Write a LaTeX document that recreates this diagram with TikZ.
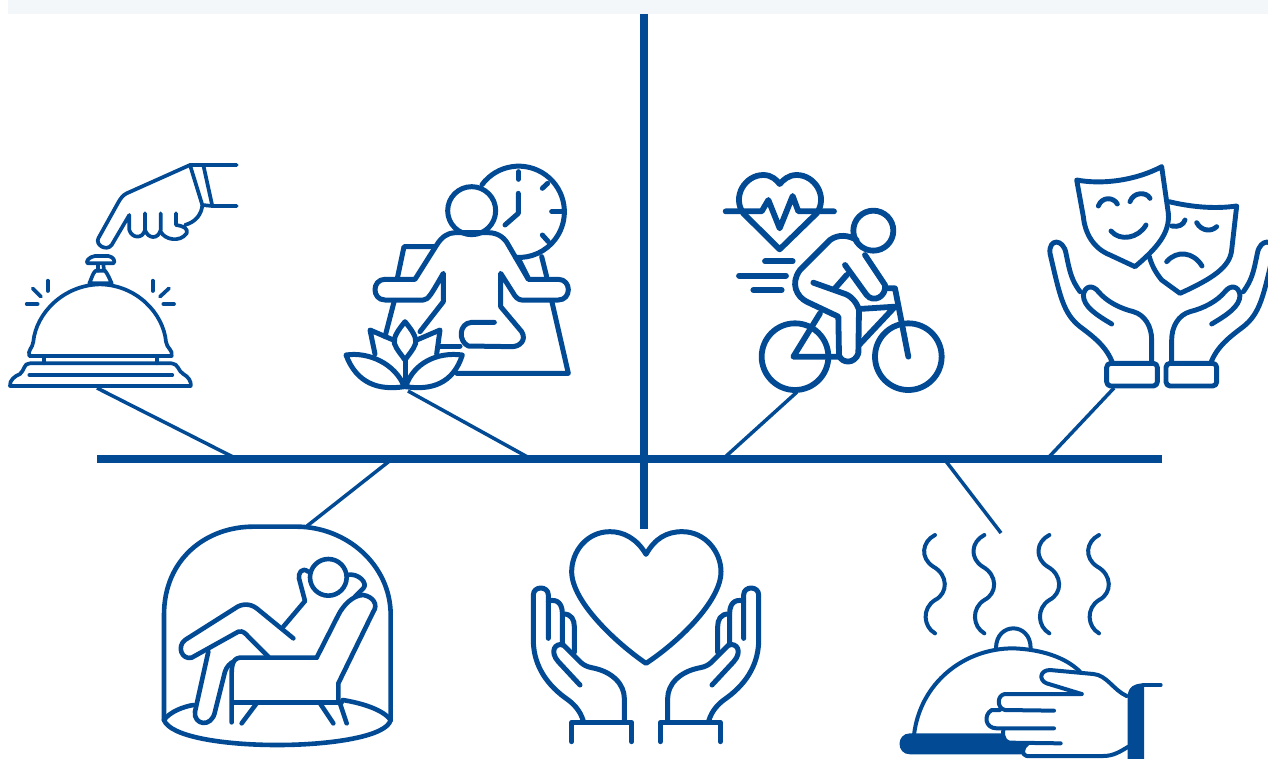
\documentclass[tikz,border=0pt]{standalone}
\definecolor{navy}{RGB}{2,75,148}
\definecolor{band}{RGB}{243,247,250}
\tikzset{
  ic/.style={draw=navy,line cap=round,line join=round},
  axisline/.style={draw=navy,line width=8pt},
  spoke/.style={draw=navy,line width=3.5pt}
}
\newcommand{\maskhand}{%
  \draw[ic] (248,640) .. controls (230,590) and (190,560) .. (150,530) .. controls (100,490) and (90,440) .. (60,310) .. controls (55,265) and (100,265) .. (108,310) .. controls (120,370) and (125,390) .. (150,425);
  \draw[ic] (245,522) .. controls (200,495) and (160,470) .. (160,435) .. controls (165,405) and (190,405) .. (205,425) .. controls (230,455) and (270,475) .. (310,485) .. controls (345,495) and (365,530) .. (365,570) -- (365,640);
  \draw[ic,rounded corners=4pt] (230,640) rectangle (382,708);
}
\newcommand{\hearthand}{%
  \draw[ic] (190,618) .. controls (180,585) and (160,565) .. (135,548) .. controls (70,500) and (40,440) .. (40,375) -- (40,240) .. controls (40,212) and (85,212) .. (85,240) -- (85,370);
  \draw[ic] (85,258) .. controls (115,250) and (127,270) .. (127,295) -- (127,390);
  \draw[ic] (127,297) .. controls (155,295) and (163,315) .. (163,335) -- (163,412);
  \draw[ic] (180,510) -- (115,440) .. controls (88,410) and (105,382) .. (130,390) -- (180,440) .. controls (190,450) and (200,455) .. (215,458) .. controls (280,470) and (313,510) .. (313,550) -- (313,622);
  \draw[ic] (155,680) -- (155,622) -- (335,622) -- (335,680);
}
\newcommand{\steam}{%
  \draw[ic] (135,45) .. controls (95,65) and (90,115) .. (130,140) .. controls (175,165) and (175,220) .. (135,240) .. controls (95,265) and (100,320) .. (135,340);
}
\begin{document}
\begin{tikzpicture}[x=1pt,y=-1pt]
\useasboundingbox (0,0) rectangle (1268,758);
\clip (0,0) rectangle (1268,758);
\fill[band] (8,0) rectangle (1268,14);
% connector anchors
\coordinate (hL) at (97,459);
\coordinate (hR) at (1162,459);
\coordinate (vT) at (644,14);
\coordinate (vB) at (644,529);
\coordinate (bellEnd) at (97,388);
\coordinate (bellFoot) at (239,460);
\coordinate (medEnd) at (408,391);
\coordinate (medFoot) at (533,460);
\coordinate (bikeEnd) at (797,392);
\coordinate (bikeFoot) at (724,458);
\coordinate (maskEnd) at (1114,388);
\coordinate (maskFoot) at (1048,458);
\coordinate (loungeEnd) at (307,526);
\coordinate (loungeFoot) at (392,459);
\coordinate (clocheEnd) at (1001,533);
\coordinate (clocheFoot) at (945,460);
\draw[axisline] (hL) -- (hR);
\draw[axisline] (vT) -- (vB);
\draw[spoke] (bellEnd) -- (bellFoot);
\draw[spoke] (medEnd) -- (medFoot);
\draw[spoke] (bikeEnd) -- (bikeFoot);
\draw[spoke] (maskEnd) -- (maskFoot);
\draw[spoke] (loungeEnd) -- (loungeFoot);
\draw[spoke] (clocheEnd) -- (clocheFoot);

% ---- bell
\begin{scope}[shift={(0,150)},x=.33333pt,y=-.33333pt,line width=3.7pt]
\draw[ic] (710,45) -- (570,45) -- (380,130) .. controls (368,136) and (362,145) .. (355,157) -- (295,265) .. controls (285,285) and (320,305) .. (335,285) -- (388,195) -- (388,240) .. controls (395,265) and (428,268) .. (435,240) -- (435,190);
\draw[ic] (435,240) .. controls (445,268) and (475,268) .. (482,240) -- (482,190);
\draw[ic] (482,245) .. controls (495,270) and (540,278) .. (560,250) .. controls (565,235) and (550,228) .. (528,225) -- (528,190);
\draw[ic] (555,225) .. controls (590,215) and (605,190) .. (607,165) -- (570,45);
\draw[ic] (610,45) -- (637,168) -- (710,168);
\draw[ic] (607,165) -- (637,168);
\draw[ic] (285,318) -- (325,318) .. controls (340,320) and (348,335) .. (340,340) -- (263,340) .. controls (255,335) and (268,320) .. (285,318) -- cycle;
\draw[ic] (295,342) -- (295,362);
\draw[ic] (310,342) -- (312,362);
\draw[ic] (268,400) .. controls (275,385) and (278,370) .. (287,362) -- (315,362) .. controls (325,375) and (328,385) .. (335,400) -- cycle;
\draw[ic] (88,618) .. controls (82,600) and (98,595) .. (100,575) .. controls (108,490) and (190,405) .. (300,403) .. controls (410,405) and (490,490) .. (498,575) .. controls (500,595) and (520,600) .. (515,618) -- cycle;
\draw[ic] (133,620) -- (133,640);
\draw[ic] (470,620) -- (470,640);
\draw[ic] (90,640) -- (515,640) .. controls (535,640) and (535,665) .. (550,672) .. controls (565,680) and (575,695) .. (572,708) -- (30,708) .. controls (28,690) and (45,678) .. (60,672) .. controls (75,660) and (70,640) .. (90,640) -- cycle;
\draw[ic] (88,675) -- (517,675);
\draw[ic] (143,392) -- (143,423);
\draw[ic] (98,415) -- (123,440);
\draw[ic] (80,462) -- (113,462);
\draw[ic] (458,392) -- (458,423);
\draw[ic] (507,415) -- (480,440);
\draw[ic] (490,462) -- (522,462);
\end{scope}

% ---- meditation
\begin{scope}[shift={(335,150)},x=.33333pt,y=-.33333pt,line width=5pt]
\draw[ic] (441,104) arc[start angle=216.5,end angle=454,radius=137];
\draw[ic] (550,65) -- (550,88);
\draw[ic] (622,115) -- (638,100);
\draw[ic] (650,185) -- (680,185);
\draw[ic] (622,255) -- (640,275);
\draw[ic] (550,130) -- (550,190) -- (510,225);
\draw[ic] (410,182) circle[radius=72];
\draw[ic] (150,388) -- (240,388) -- (305,285) .. controls (320,260) and (340,248) .. (360,248) -- (460,248) .. controls (490,248) and (510,265) .. (520,285) -- (580,388) -- (670,388) .. controls (710,388) and (710,450) .. (670,450) -- (560,450) .. controls (550,450) and (540,440) .. (535,430) -- (497,370) -- (497,470) -- (560,545) .. controls (575,570) and (555,590) .. (530,590) -- (400,588) .. controls (370,575) and (370,520) .. (410,517) -- (478,517);
\draw[ic] (150,388) .. controls (110,388) and (110,450) .. (150,450) -- (265,450) .. controls (280,450) and (290,430) .. (325,370) -- (325,455) -- (255,545);
\draw[ic] (315,588) -- (375,588);
\draw[ic] (300,290) -- (207,290) -- (187,385);
\draw[ic] (178,452) -- (150,560);
\draw[ic] (555,335) -- (580,385);
\draw[ic] (620,320) -- (635,380);
\draw[ic] (650,452) -- (700,670) -- (365,670);
% lotus
\draw[ic] (33,615) .. controls (100,605) and (180,640) .. (208,710) .. controls (130,722) and (65,700) .. (33,615) -- cycle;
\draw[ic] (382,615) .. controls (305,605) and (235,640) .. (212,710) .. controls (290,722) and (355,700) .. (382,615) -- cycle;
\draw[ic] (210,515) .. controls (190,540) and (175,560) .. (178,580) .. controls (185,600) and (200,615) .. (210,630) .. controls (220,615) and (235,600) .. (242,580) .. controls (245,560) and (230,540) .. (210,515) -- cycle;
\draw[ic] (210,630) -- (210,710);
\draw[ic] (120,612) -- (105,540) -- (175,570);
\draw[ic] (305,612) -- (315,540) -- (245,570);
\end{scope}

% ---- bike
\begin{scope}[shift={(710,160)},x=.33333pt,y=-.33333pt,line width=5.8pt]
\draw[ic] (209,268) -- (100,160) .. controls (65,110) and (105,45) .. (160,45) .. controls (185,45) and (200,60) .. (209,72) .. controls (220,60) and (235,45) .. (260,45) .. controls (315,45) and (355,110) .. (320,160) -- cycle;
\draw[ic] (47,154) -- (155,154) -- (175,120) -- (209,205) -- (248,108) -- (265,154) -- (372,154);
\draw[ic] (165,304) -- (248,304);
\draw[ic] (87,347) -- (228,347);
\draw[ic] (130,390) -- (215,390);
\draw[ic] (490,212) circle[radius=60];
\draw[ic] (440,240) .. controls (415,225) and (385,222) .. (360,240) -- (270,330) .. controls (240,370) and (260,410) .. (290,425) -- (385,470) -- (387,585) .. controls (395,612) and (435,612) .. (445,580) -- (447,450) .. controls (440,425) and (420,405) .. (400,400) -- (310,368);
\draw[ic] (405,315) -- (470,405) .. controls (490,430) and (530,410) .. (525,375) -- (465,285);
\draw[ic] (410,345) -- (375,385);
\draw[ic] (255,590) circle[radius=100];
\draw[ic] (595,590) circle[radius=100];
\draw[ic] (330,460) -- (250,590) -- (385,590);
\draw[ic] (447,555) -- (555,440) -- (447,447);
\draw[ic] (530,385) -- (555,385) -- (595,590);
\end{scope}

% ---- masks
\begin{scope}[shift={(1030,150)},x=.33333pt,y=-.33333pt,line width=4.9pt]
\draw[ic] (140,90) .. controls (220,105) and (320,90) .. (395,50) -- (415,190) .. controls (420,250) and (380,295) .. (315,350) -- (240,315) .. controls (190,295) and (165,250) .. (160,200) -- cycle;
\draw[ic] (205,168) .. controls (215,140) and (250,140) .. (262,162);
\draw[ic] (300,155) .. controls (310,125) and (350,125) .. (360,145);
\draw[ic] (243,243) .. controls (270,275) and (325,265) .. (348,225);
\draw[ic] (417,155) .. controls (480,170) and (550,178) .. (620,168) -- (605,300) .. controls (600,350) and (550,385) .. (450,430) -- (395,390) .. controls (375,365) and (365,345) .. (358,320);
\draw[ic] (425,228) .. controls (445,232) and (460,225) .. (465,210);
\draw[ic] (500,218) .. controls (515,245) and (545,245) .. (560,230);
\draw[ic] (410,335) .. controls (440,300) and (490,305) .. (516,348);
\maskhand
\begin{scope}[shift={(790,0)},xscale=-1]
\maskhand
\end{scope}
\end{scope}

% ---- lounge
\begin{scope}[shift={(150,515)},x=.33333pt,y=-.33333pt,line width=4.6pt]
\draw[ic] (42,615) -- (42,300) .. controls (42,130) and (170,35) .. (310,35) -- (440,35) .. controls (590,35) and (722,150) .. (722,300) -- (722,615);
\draw[ic] (42,615) .. controls (60,665) and (220,690) .. (382,690) .. controls (540,690) and (710,665) .. (722,615);
\draw[ic] (42,615) .. controls (60,590) and (100,575) .. (130,570);
\draw[ic] (578,555) .. controls (640,565) and (700,585) .. (722,615);
\draw[ic] (250,562) -- (575,562);
\draw[ic] (535,187) circle[radius=55];
\draw[ic] (475,170) .. controls (455,155) and (445,175) .. (447,190) -- (465,258) -- (400,335);
\draw[ic] (590,180) .. controls (625,172) and (655,205) .. (640,220) -- (615,245);
\draw[ic] (500,428) -- (565,300) .. controls (580,270) and (610,240) .. (640,240) .. controls (670,245) and (685,270) .. (670,290) -- (565,505) -- (565,560);
\draw[ic] (500,428) -- (270,428) .. controls (245,430) and (245,460) .. (245,480) -- (245,622);
\draw[ic] (430,370) -- (320,280) .. controls (300,265) and (275,265) .. (255,280) -- (105,375) .. controls (80,395) and (95,435) .. (125,428) -- (265,350) .. controls (280,345) and (290,360) .. (295,365) -- (355,425);
\draw[ic] (175,410) -- (135,590) .. controls (130,630) and (185,640) .. (195,590) -- (225,470) .. controls (230,455) and (240,445) .. (250,440);
\draw[ic] (320,565) -- (275,625);
\draw[ic] (510,565) -- (550,625);
\draw[ic] (570,565) -- (590,625);
\end{scope}

% ---- heart and hands
\begin{scope}[shift={(520,515)},x=.33333pt,y=-.33333pt,line width=5pt]
\draw[ic] (378,118) .. controls (350,70) and (310,50) .. (270,50) .. controls (200,50) and (155,110) .. (155,170) .. controls (155,260) and (290,385) .. (378,445) .. controls (470,385) and (603,260) .. (603,170) .. controls (603,110) and (555,50) .. (487,50) .. controls (440,50) and (405,70) .. (378,118) -- cycle;
\hearthand
\begin{scope}[shift={(756,0)},xscale=-1]
\hearthand
\end{scope}
\end{scope}

% ---- cloche
\begin{scope}[shift={(890,520)},x=.33333pt,y=-.33333pt,line width=4pt]
\steam
\begin{scope}[shift={(148,0)}]\steam\end{scope}
\begin{scope}[shift={(343,0)}]\steam\end{scope}
\begin{scope}[shift={(492,0)}]\steam\end{scope}
\draw[ic] (318,385) .. controls (318,305) and (422,305) .. (422,385);
\draw[ic] (72,645) .. controls (90,490) and (220,385) .. (370,385) .. controls (450,388) and (525,410) .. (570,455);
\fill[navy] (60,640) -- (335,640) .. controls (338,658) and (345,665) .. (355,665) -- (405,665) .. controls (398,680) and (398,695) .. (402,703) -- (60,703) .. controls (18,703) and (18,640) .. (60,640) -- cycle;
\draw[ic] (575,522) -- (470,490) .. controls (445,480) and (450,450) .. (480,450) -- (610,462) .. controls (650,465) and (670,510) .. (710,528);
\draw[ic] (575,522) -- (345,522) .. controls (320,525) and (320,565) .. (345,570) -- (492,572);
\draw[ic] (330,570) -- (305,570) .. controls (280,585) and (285,625) .. (320,625) -- (492,625);
\draw[ic] (340,630) .. controls (335,655) and (350,668) .. (360,668) -- (512,670);
\draw[ic] (412,672) .. controls (395,685) and (395,705) .. (410,708) -- (640,708) .. controls (670,708) and (690,695) .. (715,680);
\fill[navy] (713,530) .. controls (713,500) and (735,490) .. (762,490) -- (762,720) -- (713,720) -- cycle;
\draw[ic] (760,495) -- (812,495);
\end{scope}
\end{tikzpicture}
\end{document}
